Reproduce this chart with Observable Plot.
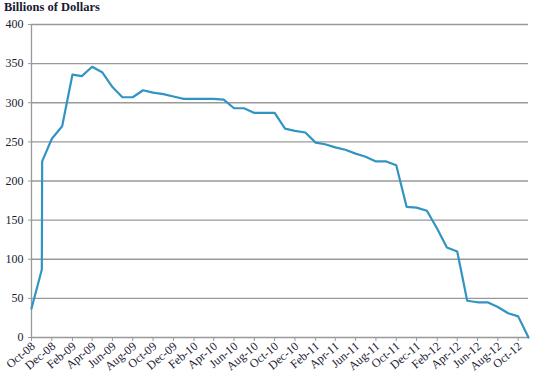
<!DOCTYPE html>
<html><head><meta charset="utf-8">
<script src="https://cdn.jsdelivr.net/npm/d3@7"></script>
<script src="https://cdn.jsdelivr.net/npm/@observablehq/plot@0.6"></script>
<style>
body{margin:0;background:#fff;font-family:"Liberation Serif",serif}
#title{font-weight:bold;font-size:12.5px;height:16px;line-height:14px;padding-left:4px;color:#1a1a33}
</style></head><body>
<div id="title">Billions of Dollars</div>
<div id="chart"></div>
<script>
const dates = ["2008-10-01","2008-11-01","2008-11-02","2008-12-01","2009-01-01","2009-02-01","2009-03-01","2009-04-01","2009-05-01","2009-06-01","2009-07-01","2009-08-01","2009-09-01","2009-10-01","2009-11-01","2009-12-01","2010-01-01","2010-02-01","2010-03-01","2010-04-01","2010-05-01","2010-06-01","2010-07-01","2010-08-01","2010-09-01","2010-10-01","2010-11-01","2010-12-01","2011-01-01","2011-02-01","2011-03-01","2011-04-01","2011-05-01","2011-06-01","2011-07-01","2011-08-01","2011-09-01","2011-10-01","2011-11-01","2011-12-01","2012-01-01","2012-02-01","2012-03-01","2012-04-01","2012-05-01","2012-06-01","2012-07-01","2012-08-01","2012-09-01","2012-10-01","2012-11-01"];
const values = [37,87,225,254,270,336,334,346,339,320,307,307,316,313,311,308,305,305,305,305,304,293,293,287,287,287,267,264,262,249,247,243,240,235,231,225,225,220,167,166,162,139,115,110,47,45,45,39,31,27,0];
const tickDates = ["2008-10-01","2008-12-01","2009-02-01","2009-04-01","2009-06-01","2009-08-01","2009-10-01","2009-12-01","2010-02-01","2010-04-01","2010-06-01","2010-08-01","2010-10-01","2010-12-01","2011-02-01","2011-04-01","2011-06-01","2011-08-01","2011-10-01","2011-12-01","2012-02-01","2012-04-01","2012-06-01","2012-08-01","2012-10-01"];
const tickLabels = ["Oct-08","Dec-08","Feb-09","Apr-09","Jun-09","Aug-09","Oct-09","Dec-09","Feb-10","Apr-10","Jun-10","Aug-10","Oct-10","Dec-10","Feb-11","Apr-11","Jun-11","Aug-11","Oct-11","Dec-11","Feb-12","Apr-12","Jun-12","Aug-12","Oct-12"];
const yTicks = [0,50,100,150,200,250,300,350,400];

const data = dates.map((d,i)=>({date:new Date(d+"T00:00:00Z"), value:values[i]}));
const tDates = tickDates.map(d=>new Date(d+"T00:00:00Z"));
const tickData = tDates.map((d,i)=>({date:d, label:tickLabels[i]}));
const x0 = new Date("2008-10-01T00:00:00Z"), x1 = new Date("2012-11-01T00:00:00Z");

const chart = Plot.plot({
  width: 533, height: 360,
  marginTop: 8, marginLeft: 31, marginRight: 5, marginBottom: 39,
  style: {fontFamily: '"Liberation Serif", serif', color: "#1a1a33", background: "#fff"},
  x: {type: "utc", domain: [x0, x1]},
  y: {domain: [0, 400]},
  marks: [
    Plot.ruleY(yTicks, {stroke: "#999", strokeWidth: 1.3}),
    Plot.ruleX([x0], {y1: 0, y2: 400, stroke: "#999", strokeWidth: 1.3}),
    Plot.axisY(yTicks, {tickSize: 3, tickPadding: 5, stroke: "#999", fontSize: 12, fill: "#1a1a33", label: null}),
    Plot.axisX(tDates, {tickSize: 4, stroke: "#999", tickFormat: () => "", label: null}),
    Plot.text(tickData, {x: "date", text: "label", frameAnchor: "bottom", dy: 7, dx: 2, rotate: -40, textAnchor: "end", lineAnchor: "middle", fontSize: 12, fill: "#1a1a33"}),
    Plot.line(data, {x: "date", y: "value", stroke: "#3294c2", strokeWidth: 2.2})
  ]
});
document.getElementById("chart").appendChild(chart);
</script>
</body></html>
